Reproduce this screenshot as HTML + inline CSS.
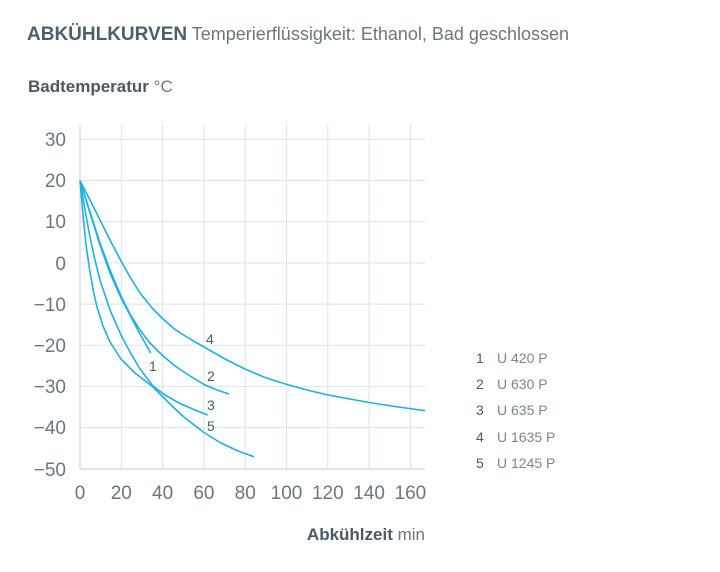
<!DOCTYPE html>
<html><head><meta charset="utf-8"><style>
body{margin:0;background:#fff;width:720px;height:572px;overflow:hidden}
svg{display:block;font-family:"Liberation Sans",sans-serif}
</style></head><body>
<svg width="720" height="572" viewBox="0 0 720 572">
<g stroke="#dde3e8" stroke-width="1">
<line x1="80" y1="139.3" x2="425" y2="139.3"/><line x1="80" y1="180.5" x2="425" y2="180.5"/>
<line x1="80" y1="221.7" x2="425" y2="221.7"/><line x1="80" y1="262.9" x2="425" y2="262.9"/>
<line x1="80" y1="304.1" x2="425" y2="304.1"/><line x1="80" y1="345.3" x2="425" y2="345.3"/>
<line x1="80" y1="386.5" x2="425" y2="386.5"/><line x1="80" y1="427.7" x2="425" y2="427.7"/>
<line x1="80" y1="468.9" x2="425" y2="468.9"/>
<line x1="121.3" y1="125" x2="121.3" y2="469"/><line x1="162.6" y1="125" x2="162.6" y2="469"/>
<line x1="203.9" y1="125" x2="203.9" y2="469"/><line x1="245.2" y1="125" x2="245.2" y2="469"/>
<line x1="286.5" y1="125" x2="286.5" y2="469"/><line x1="327.8" y1="125" x2="327.8" y2="469"/>
<line x1="369.1" y1="125" x2="369.1" y2="469"/><line x1="410.4" y1="125" x2="410.4" y2="469"/>
</g>
<line x1="80" y1="125" x2="80" y2="469" stroke="#c9d1d8"/>
<line x1="80" y1="469" x2="425" y2="469" stroke="#c9d1d8"/>
<g fill="#6b7780" font-size="19" text-anchor="end">
<text x="66" y="146">30</text><text x="66" y="187">20</text><text x="66" y="228">10</text>
<text x="66" y="270">0</text><text x="66" y="311">−10</text><text x="66" y="352">−20</text>
<text x="66" y="393">−30</text><text x="66" y="434">−40</text><text x="66" y="476">−50</text>
</g>
<g fill="#6b7780" font-size="19" text-anchor="middle">
<text x="80" y="499">0</text><text x="121.3" y="499">20</text><text x="162.6" y="499">40</text>
<text x="203.9" y="499">60</text><text x="245.2" y="499">80</text><text x="286.5" y="499">100</text>
<text x="327.8" y="499">120</text><text x="369.1" y="499">140</text><text x="410.4" y="499">160</text>
</g>
<g fill="none" stroke="#1fb0e4" stroke-width="1.6" stroke-linejoin="round">
<polyline points="80,180.7 90,200 100,220 110,240 121,261 130,277 140,293 153,309 163,319 175,329.5 190,339 204,347 225,359 245,369 265,377.5 287,384.5 307,390 328,395 350,399 369,402.5 395,406.5 425,410.7"/>
<polyline points="80,180.7 90,212 100,243 110,270 121,296 130,314 140,330 150,343 162,355 175,366 190,376 204,384.5 217,390 229,394"/>
<polyline points="80,180.7 90,213 100,245 110,273 121,298 130,315 140,334 150.7,353"/>
<polyline points="80,180.7 85,210 90,237 95,260 100,280 110,310 121,335 130,352 140,369 153,386 165,395 180,403.5 195,410 207.7,415"/>
<polyline points="80,180.7 83,215 86,245 90,272 94,294 97,307 103,326 110,342 121,359 135,373 153,387 170,404 185,418 204,432.5 220,442.5 238,451 254,456.7"/>
</g>
<g fill="#4a5a66" font-size="14">
<text x="206" y="344">4</text><text x="149" y="371">1</text><text x="207" y="381">2</text>
<text x="207" y="410">3</text><text x="207" y="431">5</text>
</g>
<g fill="#4a5a66" font-size="14">
<text x="476" y="363">1</text><text x="476" y="389">2</text><text x="476" y="415">3</text><text x="476" y="442">4</text><text x="476" y="468">5</text>
</g>
<g fill="#7a868f" font-size="14">
<text x="497" y="363">U 420 P</text><text x="497" y="389">U 630 P</text><text x="497" y="415">U 635 P</text><text x="497" y="442">U 1635 P</text><text x="497" y="468">U 1245 P</text>
</g>
<text x="27" y="40" font-size="19" fill="#4a5a66"><tspan font-weight="bold" fill="#4d5f6b">ABKÜHLKURVEN</tspan><tspan fill="#6b7780" font-size="18"> Temperierflüssigkeit: Ethanol, Bad geschlossen</tspan></text>
<text x="28" y="92" font-size="17" fill="#4a5a66"><tspan font-weight="bold">Badtemperatur</tspan><tspan fill="#6b7780"> °C</tspan></text>
<text x="425" y="540" font-size="17" fill="#4a5a66" text-anchor="end"><tspan font-weight="bold">Abkühlzeit</tspan><tspan fill="#6b7780"> min</tspan></text>
</svg>
</body></html>
